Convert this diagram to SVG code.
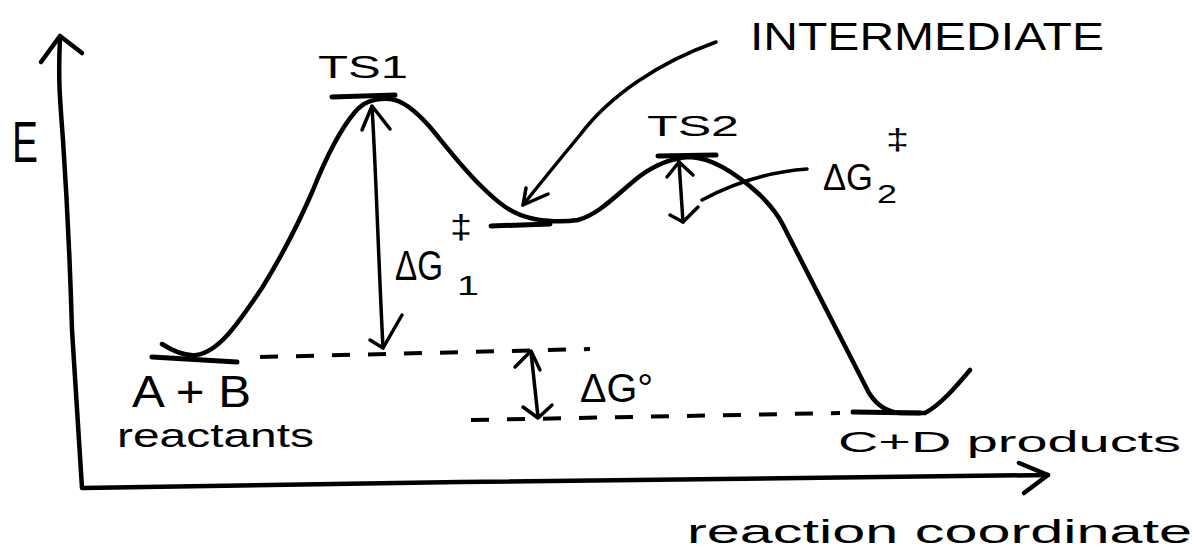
<svg xmlns="http://www.w3.org/2000/svg" width="1195" height="548" viewBox="0 0 1195 548">
<style>
.ln{fill:none;stroke:#000;stroke-width:4.5;stroke-linecap:round;stroke-linejoin:round}
.thin{fill:none;stroke:#000;stroke-width:3.5;stroke-linecap:round;stroke-linejoin:round}
.bar{fill:none;stroke:#000;stroke-width:5;stroke-linecap:round}
.dash{fill:none;stroke:#000;stroke-width:4;stroke-dasharray:18 18}
.t{font-family:"Liberation Sans",Arial,sans-serif;fill:#000}
</style>
<rect width="1195" height="548" fill="#fff"/>
<g id="axes">
<path class="ln" d="M60,37 C58,80 60,100 63,140 C67,200 70,260 72,330 L82,488 L460,482 L1048,475"/>
<path class="ln" d="M41,62 L60,36 L82,53"/>
<path class="ln" d="M1019,463 L1048,475 L1024,493"/>
</g>
<g id="energy-curve">
<path class="ln" d="M162,344 C176,353 186,356 196,355 C220,352 240,320 262,288 C278,262 298,225 313,190 C325,160 338,132 355,112 C365,100 378,98 390,99 C402,100 415,110 430,127 C445,145 460,165 480,185 C498,203 512,214 530,218 C545,222 565,222 578,220 C600,214 618,193 640,176 C655,165 670,158 690,157 C712,158 735,172 760,195 C770,205 778,215 783,225 L869,393 C876,404 886,412 900,413 L925,413 C940,405 955,388 970,370"/>
</g>
<g id="levels">
<path class="bar" d="M152,357 L237,362"/>
<path class="bar" d="M332,97 L395,95"/>
<path class="bar" d="M491,226 L550,224"/>
<path class="bar" d="M658,156 L716,155"/>
<path class="bar" d="M853,412 L920,413"/>
</g>
<g id="connectors">
<path class="dash" d="M260,357 L590,349"/>
<path class="dash" d="M471,420 L840,413"/>
<path class="thin" d="M372,107 C376,170 378,250 383,348"/>
<path class="thin" d="M362,130 L372,106 L390,129"/>
<path class="thin" d="M370,340 L383,348 L402,315"/>
<path class="thin" d="M531,352 L538,417"/>
<path class="thin" d="M515,367 L531,351 L540,370"/>
<path class="thin" d="M523,407 L538,418 L552,405"/>
<path class="thin" d="M679,162 L683,222"/>
<path class="thin" d="M667,177 L679,162 L693,175"/>
<path class="thin" d="M670,215 L683,222 L698,207"/>
<path class="thin" d="M702,200 C730,185 765,172 807,169"/>
<path class="thin" d="M716,42 C660,62 610,95 580,135 C555,165 535,190 523,205"/>
<path class="thin" d="M526,188 L523,205 L548,194"/>
</g>
<g id="label-E"><text class="t" x="12" y="162" font-size="58" textLength="26" lengthAdjust="spacingAndGlyphs">E</text></g>
<g id="label-TS1"><text class="t" x="318" y="78" font-size="32" textLength="90" lengthAdjust="spacingAndGlyphs">TS1</text></g>
<g id="label-TS2"><text class="t" x="647" y="136" font-size="30" textLength="92" lengthAdjust="spacingAndGlyphs">TS2</text></g>
<g id="label-intermediate"><text class="t" x="750" y="50" font-size="38" textLength="354" lengthAdjust="spacingAndGlyphs">INTERMEDIATE</text></g>
<g id="label-dG1">
<text class="t" x="395" y="280" font-size="42" textLength="48" lengthAdjust="spacingAndGlyphs">ΔG</text>
<text class="t" x="450" y="238" font-size="34" textLength="22" lengthAdjust="spacingAndGlyphs">‡</text>
<text class="t" x="457" y="295" font-size="28" textLength="22" lengthAdjust="spacingAndGlyphs">1</text>
</g>
<g id="label-dG2">
<text class="t" x="823" y="190" font-size="36" textLength="50" lengthAdjust="spacingAndGlyphs">ΔG</text>
<text class="t" x="886" y="150" font-size="30" textLength="23" lengthAdjust="spacingAndGlyphs">‡</text>
<text class="t" x="877" y="203" font-size="26" textLength="20" lengthAdjust="spacingAndGlyphs">2</text>
</g>
<g id="label-dG0"><text class="t" x="580" y="402" font-size="40" textLength="73" lengthAdjust="spacingAndGlyphs">ΔG°</text></g>
<g id="label-reactants">
<text class="t" x="132" y="407" font-size="44" textLength="119" lengthAdjust="spacingAndGlyphs">A + B</text>
<text class="t" x="117" y="447" font-size="34" textLength="197" lengthAdjust="spacingAndGlyphs">reactants</text>
</g>
<g id="label-products"><text class="t" x="838" y="452" font-size="30" textLength="343" lengthAdjust="spacingAndGlyphs">C+D products</text></g>
<g id="label-x"><text class="t" x="687" y="543" font-size="34" textLength="505" lengthAdjust="spacingAndGlyphs">reaction coordinate</text></g>
</svg>
